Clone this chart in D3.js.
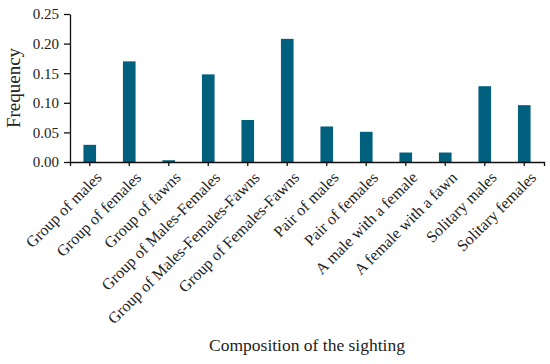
<!DOCTYPE html>
<html>
<head>
<meta charset="utf-8">
<script src="https://cdn.jsdelivr.net/npm/d3@7"></script>
<style>
  body { margin: 0; background: #fff; }
  text { font-family: "Liberation Serif", serif; fill: #222; }
</style>
</head>
<body>
<div id="chart"></div>
<script>
// composition of each sighting and its frequency
const categories = [
    'Group of males', 'Group of females', 'Group of fawns', 'Group of Males-Females',
    'Group of Males-Females-Fawns', 'Group of Females-Fawns', 'Pair of males', 'Pair of females',
    'A male with a female', 'A female with a fawn', 'Solitary males', 'Solitary females'
];
const frequency = [0.029, 0.170, 0.003, 0.148, 0.071, 0.208, 0.060, 0.051, 0.016, 0.016, 0.128, 0.096];
const yTicks = [0, 0.05, 0.10, 0.15, 0.20, 0.25];

const width = 550, height = 364;
const margin = { top: 14, right: 6, bottom: 202, left: 70 };

const svg = d3.select('#chart')
    .append('svg')
    .attr('width', width)
    .attr('height', height);

const x = d3.scaleBand()
    .domain(categories)
    .range([margin.left, width - margin.right])
    .paddingInner(0.68)
    .paddingOuter(0.34);

const y = d3.scaleLinear()
    .domain([0, 0.25])
    .range([height - margin.bottom, margin.top]);

// bars
svg.selectAll('rect')
    .data(frequency)
    .enter()
    .append('rect')
    .attr('x', (d, i) => x(categories[i]))
    .attr('y', d => y(d))
    .attr('width', x.bandwidth())
    .attr('height', d => y(0) - y(d))
    .attr('fill', '#02607f');

// y axis
const yAxis = svg.append('g')
    .attr('transform', `translate(${margin.left},0)`)
    .call(d3.axisLeft(y).tickValues(yTicks).tickFormat(d3.format('.2f')).tickSize(6).tickSizeOuter(0));
yAxis.selectAll('text').style('font-size', '15px').attr('x', -11);

// x axis
const xAxis = svg.append('g')
    .attr('transform', `translate(0,${y(0)})`)
    .call(d3.axisBottom(x).tickSize(4).tickSizeOuter(4));
xAxis.selectAll('text')
    .style('font-size', '16px')
    .style('text-anchor', 'end')
    .attr('dx', '0.15em')
    .attr('dy', '0.55em')
    .attr('transform', 'translate(0,7) rotate(-45)');

svg.selectAll('.domain, .tick line').attr('stroke', '#111').attr('stroke-width', 1.3);

// axis titles
svg.append('text')
    .attr('transform', `translate(20,${(y(0) + y(0.25)) / 2}) rotate(-90)`)
    .style('text-anchor', 'middle')
    .style('font-size', '19px')
    .text('Frequency');

svg.append('text')
    .attr('x', (margin.left + width - margin.right) / 2)
    .attr('y', 351)
    .style('text-anchor', 'middle')
    .style('font-size', '17.5px')
    .text('Composition of the sighting');
</script>
</body>
</html>
